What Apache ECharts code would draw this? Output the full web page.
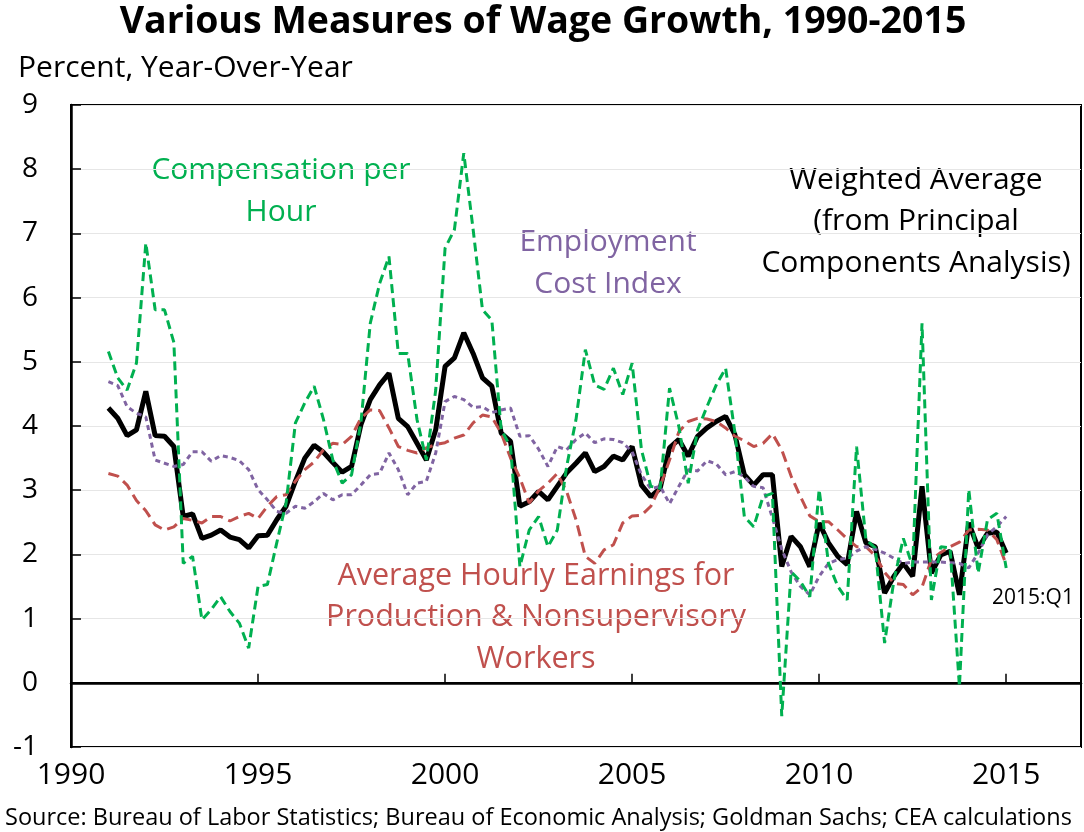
<!DOCTYPE html>
<html>
<head>
<meta charset="utf-8">
<script src="https://cdn.jsdelivr.net/npm/echarts@6/dist/echarts.min.js"></script>
<style>
  html, body { margin: 0; padding: 0; background: #fff; }
  #chart { width: 1084px; height: 832px; }
</style>
</head>
<body>
<div id="chart"></div>
<script>
// quarterly, 1991:Q1 .. 2015:Q1
var firstYear = 1991;
var xTicks = [1990, 1995, 2000, 2005, 2010, 2015];
var yTicks = [-1, 0, 1, 2, 3, 4, 5, 6, 7, 8, 9];

// weighted average (principal components)
var weighted = [
  4.28, 4.12, 3.85, 3.94,  4.54, 3.85, 3.84, 3.68,  2.59, 2.63, 2.25, 2.30,
  2.38, 2.27, 2.23, 2.10,  2.29, 2.30, 2.54, 2.75,  3.14, 3.50, 3.70, 3.59,
  3.43, 3.28, 3.37, 4.02,  4.41, 4.64, 4.82, 4.12,  3.99, 3.73, 3.47, 3.94,
  4.93, 5.06, 5.45, 5.13,  4.75, 4.62, 3.89, 3.76,  2.75, 2.82, 2.98, 2.85,
  3.06, 3.27, 3.42, 3.58,  3.29, 3.37, 3.53, 3.47,  3.68, 3.08, 2.90, 3.03,
  3.66, 3.79, 3.53, 3.84,  3.97, 4.07, 4.15, 3.86,  3.24, 3.08, 3.24, 3.24,
  1.81, 2.28, 2.12, 1.81,  2.49, 2.18, 1.97, 1.84,  2.67, 2.18, 2.12, 1.40,
  1.66, 1.86, 1.66, 3.06,  1.71, 1.99, 2.05, 1.37,  2.49, 2.10, 2.33, 2.35,
  2.02
];

// compensation per hour
var compensation = [
  5.16, 4.75, 4.56, 4.98,  6.85, 5.81, 5.81, 5.30,  1.86, 1.97, 0.98, 1.14,
  1.34, 1.11, 0.93, 0.54,  1.50, 1.53, 2.18, 2.80,  4.05, 4.36, 4.62, 4.10,
  3.47, 3.11, 3.24, 4.05,  5.60, 6.22, 6.64, 5.13,  5.13, 4.10, 3.47, 4.56,
  6.77, 7.06, 8.25, 7.06,  5.81, 5.65, 3.94, 3.68,  1.81, 2.38, 2.59, 2.12,
  2.38, 3.37, 4.10, 5.19,  4.64, 4.57, 4.90, 4.49,  4.98, 3.63, 3.06, 3.03,
  4.59, 3.99, 3.11, 3.94,  4.30, 4.64, 4.90, 3.89,  2.59, 2.43, 2.90, 2.95,
  -0.52, 1.73, 1.58, 1.34,  3.01, 1.86, 1.50, 1.29,  3.68, 2.23, 2.10, 0.62,
  1.60, 2.25, 1.81, 5.60,  1.29, 2.12, 2.10, -0.06,  3.01, 1.71, 2.54, 2.64,
  1.79
];

// employment cost index
var employment = [
  4.69, 4.63, 4.30, 4.20,  4.14, 3.47, 3.42, 3.37,  3.40, 3.60, 3.60, 3.45,
  3.54, 3.51, 3.46, 3.32,  3.01, 2.85, 2.67, 2.64,  2.75, 2.72, 2.82, 2.95,
  2.85, 2.93, 2.93, 3.08,  3.24, 3.26, 3.58, 3.32,  2.93, 3.11, 3.14, 3.58,
  4.38, 4.46, 4.41, 4.29,  4.30, 4.21, 4.25, 4.28,  3.84, 3.85, 3.64, 3.37,
  3.68, 3.63, 3.79, 3.89,  3.74, 3.80, 3.79, 3.74,  3.60, 3.24, 3.02, 3.06,
  2.79, 3.06, 3.32, 3.30,  3.46, 3.41, 3.24, 3.29,  3.21, 3.06, 3.04, 2.57,
  2.08, 1.73, 1.50, 1.37,  1.66, 1.86, 1.92, 1.94,  2.05, 2.12, 2.08, 2.02,
  1.94, 1.86, 1.88, 1.88,  1.88, 1.88, 1.87, 1.86,  1.79, 2.02, 2.31, 2.43,
  2.59
];

// average hourly earnings, production & nonsupervisory workers
var earnings = [
  3.26, 3.22, 3.08, 2.84,  2.68, 2.46, 2.38, 2.43,  2.56, 2.53, 2.49, 2.59,
  2.59, 2.52, 2.59, 2.64,  2.56, 2.75, 2.90, 2.93,  3.14, 3.32, 3.44, 3.63,
  3.73, 3.71, 3.84, 4.12,  4.25, 4.24, 3.97, 3.68,  3.62, 3.58, 3.66, 3.71,
  3.74, 3.81, 3.86, 4.05,  4.17, 4.14, 3.89, 3.50,  3.19, 2.80, 2.99, 3.11,
  3.26, 2.98, 2.54, 1.97,  1.86, 2.07, 2.15, 2.49,  2.60, 2.61, 2.75, 3.06,
  3.47, 3.91, 4.07, 4.12,  4.11, 4.07, 3.97, 3.84,  3.77, 3.68, 3.73, 3.88,
  3.63, 3.22, 2.90, 2.60,  2.51, 2.51, 2.38, 2.24,  2.12, 2.12, 1.98, 1.72,
  1.55, 1.53, 1.37, 1.49,  1.92, 2.03, 2.12, 2.19,  2.38, 2.39, 2.38, 2.23,
  1.84
];

function toPairs(vals) {
  return vals.map(function (v, i) { return [firstYear + i / 4, v]; });
}

var FONT = '"Open Sans", Lato, sans-serif';

var myChart = echarts.init(document.getElementById('chart'));

// free-standing label, centred on (x, y) unless align given
function txt(x, y, s, color, size, align, weight) {
  return {
    type: 'text', x: x, y: y, silent: true,
    style: {
      text: s, fill: color, fontFamily: FONT, fontSize: size,
      fontWeight: weight || 'normal',
      align: align || 'center', verticalAlign: 'middle'
    }
  };
}

myChart.setOption({
  backgroundColor: '#fff',
  animation: false,
  grid: {
    left: 71, top: 105, width: 1019, height: 642,
    show: true, borderColor: '#000', borderWidth: 2, backgroundColor: 'transparent'
  },
  xAxis: {
    type: 'value',
    min: 1990, max: 2017, interval: 5,
    axisLine: { lineStyle: { color: '#000', width: 2.5 } },
    axisTick: { inside: true, length: 9, lineStyle: { color: '#000', width: 1.5 } },
    splitLine: { show: false },
    axisLabel: {
      color: '#000', fontFamily: FONT, fontSize: 30, margin: 13,
      formatter: function (v) { return xTicks.indexOf(v) >= 0 ? String(v) : ''; }
    }
  },
  yAxis: {
    type: 'value',
    min: -1, max: 9, interval: 1,
    axisLine: { show: true, lineStyle: { color: '#000', width: 2.5 } },
    axisTick: { show: true, inside: true, length: 10, lineStyle: { color: '#000', width: 1.5 } },
    splitLine: { show: true, lineStyle: { color: '#e6e6e6', width: 1 } },
    axisLabel: {
      color: '#000', fontFamily: FONT, fontSize: 28, margin: 33,
      formatter: function (v) { return yTicks.indexOf(v) >= 0 ? String(v) : ''; }
    }
  },
  series: [
    {
      name: 'Weighted Average', type: 'line', data: toPairs(weighted),
      symbol: 'none', z: 3,
      lineStyle: { color: '#000', width: 5 },
      markLine: {
        silent: true, symbol: 'none', label: { show: false },
        lineStyle: { color: '#000', width: 2, type: 'solid' },
        data: [{ yAxis: 0 }]
      }
    },
    {
      name: 'Average Hourly Earnings', type: 'line', data: toPairs(earnings),
      symbol: 'none', z: 4,
      lineStyle: { color: '#C0504D', width: 3, type: [11, 6] }
    },
    {
      name: 'Employment Cost Index', type: 'line', data: toPairs(employment),
      symbol: 'none', z: 5,
      lineStyle: { color: '#8064A2', width: 3, type: [5, 4] }
    },
    {
      name: 'Compensation per Hour', type: 'line', data: toPairs(compensation),
      symbol: 'none', z: 6,
      lineStyle: { color: '#00B050', width: 3, type: [9, 5] }
    }
  ],
  graphic: [
    txt(543, 22, 'Various Measures of Wage Growth, 1990-2015', '#000', 37.5, 'center', 'bold'),
    txt(18, 68, 'Percent, Year-Over-Year', '#000', 30, 'left'),
    txt(281, 170, 'Compensation per', '#00B050', 30),
    txt(281, 212, 'Hour', '#00B050', 30),
    txt(608, 242, 'Employment', '#8064A2', 30),
    txt(608, 284, 'Cost Index', '#8064A2', 30),
    txt(916, 180, 'Weighted Average', '#000', 30),
    txt(916, 221, '(from Principal', '#000', 30),
    txt(916, 263, 'Components Analysis)', '#000', 30),
    txt(536, 576, 'Average Hourly Earnings for', '#C0504D', 30.5),
    txt(536, 617, 'Production & Nonsupervisory', '#C0504D', 30.5),
    txt(536, 659, 'Workers', '#C0504D', 30.5),
    txt(1033, 598, '2015:Q1', '#000', 21),
    txt(5, 818, 'Source: Bureau of Labor Statistics; Bureau of Economic Analysis; Goldman Sachs; CEA calculations', '#000', 23.5, 'left')
  ]
});
</script>
</body>
</html>
